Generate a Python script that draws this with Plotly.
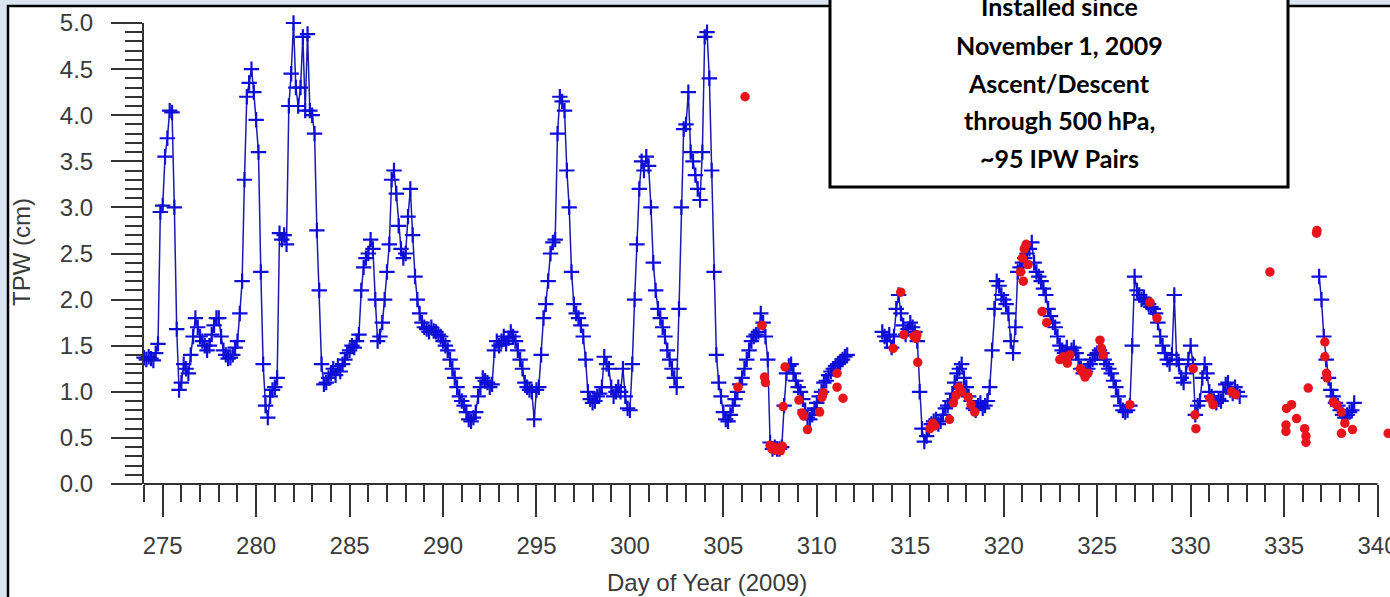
import plotly.graph_objects as go

# ---------------- data ----------------
STEP = 0.125  # sampling step of the blue series (days)

seg1_start = 274.0
seg1_vals = [
    1.37, 1.35, 1.38, 1.36, 1.34, 1.42, 1.52, 2.95,   # 274
    3.02, 3.55, 3.75, 4.05, 4.03, 3.0, 1.68, 1.02,    # 275
    1.1, 1.3, 1.25, 1.2, 1.4, 1.6, 1.8, 1.7,          # 276
    1.6, 1.55, 1.5, 1.45, 1.5, 1.62, 1.72, 1.8,       # 277
    1.8, 1.6, 1.45, 1.4, 1.36, 1.37, 1.4, 1.48,       # 278
    1.55, 1.85, 2.2, 3.3, 4.2, 4.35, 4.5, 4.25,       # 279
    3.95, 3.6, 2.3, 1.3, 0.85, 0.72, 0.95, 1.02,      # 280
    1.05, 1.15, 2.72, 2.65, 2.7, 2.6, 4.1, 4.45,      # 281
    5.0, 4.3, 4.1, 4.3, 4.85, 4.05, 4.88, 4.05,       # 282
    4.0, 3.8, 2.75, 2.1, 1.3, 1.08, 1.1, 1.15,        # 283
    1.2, 1.25, 1.18, 1.28, 1.22, 1.3, 1.35, 1.42,     # 284
    1.45, 1.5, 1.48, 1.55, 1.62, 2.1, 2.35, 2.45,     # 285
    2.5, 2.65, 2.55, 2.0, 1.55, 1.6, 1.75, 2.0,       # 286
    2.3, 2.6, 3.3, 3.4, 3.15, 2.8, 2.55, 2.45,        # 287
    2.5, 2.9, 3.2, 2.7, 2.25, 2.0, 1.85, 1.75,        # 288
    1.7, 1.68, 1.65, 1.7, 1.66, 1.65, 1.62, 1.6,      # 289
    1.55, 1.5, 1.45, 1.35, 1.25, 1.15, 1.05, 0.95,    # 290
    0.9, 0.85, 0.78, 0.7, 0.68, 0.72, 0.78, 0.95,     # 291
    1.05, 1.15, 1.12, 1.1, 1.05, 1.08, 1.45, 1.55,    # 292
    1.5, 1.55, 1.6, 1.52, 1.58, 1.65, 1.6, 1.55,      # 293
    1.45, 1.35, 1.25, 1.1, 1.05, 1.02, 1.0, 0.7,      # 294
    1.02, 1.05, 1.4, 1.8, 1.95, 2.2, 2.5, 2.62,       # 295
    2.65, 3.8, 4.2, 4.15, 4.05, 3.4, 3.0, 2.3,        # 296
    1.95, 1.85, 1.8, 1.72, 1.6, 1.35, 1.0, 0.92,      # 297
    0.88, 0.9, 0.95, 0.98, 1.05, 1.38, 1.3, 1.25,     # 298
    1.05, 0.95, 1.0, 1.05, 1.0, 1.25, 0.95, 0.82,     # 299
    0.8, 1.3, 2.0, 2.6, 3.2, 3.5, 3.4, 3.55,          # 300
    3.45, 3.0, 2.4, 2.1, 1.9, 1.8, 1.7, 1.6,          # 301
    1.45, 1.35, 1.25, 1.15, 1.05, 1.9, 3.0, 3.85,     # 302
    3.9, 4.25, 3.6, 3.5, 3.35, 3.2, 3.08, 3.6,        # 303
    4.85, 4.9, 4.4, 3.4, 2.3, 1.4, 1.1, 0.95,         # 304
    0.78, 0.7, 0.68, 0.75, 0.85, 0.92, 1.0, 1.08,     # 305
    1.15, 1.25, 1.35, 1.45, 1.55, 1.6, 1.62, 1.65,    # 306
    1.85, 1.75, 1.6, 1.35, 0.45, 0.38, 0.4, 0.38,     # 307
    0.38, 0.4, 0.85, 1.2, 1.28, 1.3, 1.2, 1.12,       # 308
    1.05, 1.0, 0.92, 0.8, 0.72, 0.7, 0.75, 0.82,      # 309
    0.88, 0.95, 1.0, 1.1, 1.12, 1.18, 1.22, 1.25,     # 310
    1.28, 1.3, 1.32, 1.35, 1.38, 1.4,                 # 311
]

seg2_start = 313.5
seg2_vals = [
    1.65, 1.6, 1.55, 1.62,                            # 313.5
    1.48, 1.6, 1.9, 2.05, 1.85, 1.72, 1.62, 1.68,     # 314
    1.75, 1.7, 1.65, 1.55, 1.0, 0.6, 0.46, 0.52,      # 315
    0.6, 0.65, 0.68, 0.7, 0.65, 0.68, 0.75, 0.82,     # 316
    0.85, 0.9, 0.98, 1.1, 1.2, 1.25, 1.3, 1.15,       # 317
    1.05, 0.95, 0.9, 0.82, 0.8, 0.85, 0.88, 0.82,     # 318
    0.85, 0.9, 1.05, 1.45, 1.9, 2.2, 2.15, 2.05,      # 319
    2.0, 1.95, 1.85, 1.55, 1.42, 1.7, 2.3, 2.35,      # 320
    2.4, 2.45, 2.5, 2.55, 2.62, 2.4, 2.3, 2.25,       # 321
    2.2, 2.12, 2.05, 1.9, 1.82, 1.75, 1.7, 1.6,       # 322
    1.5, 1.45, 1.42, 1.48, 1.4, 1.45, 1.48, 1.42,     # 323
    1.35, 1.25, 1.2, 1.22, 1.25, 1.3, 1.35, 1.4,      # 324
    1.42, 1.45, 1.42, 1.35, 1.3, 1.25, 1.2, 1.12,     # 325
    1.05, 0.95, 0.85, 0.8, 0.78, 0.8, 0.85, 1.5,      # 326
    2.25, 2.1, 2.05, 2.0, 2.02, 1.98, 1.95, 1.92,     # 327
    1.9, 1.85, 1.75, 1.6, 1.5, 1.42, 1.35, 1.3,       # 328
    1.4, 2.05, 1.35, 1.3, 1.15, 1.1, 1.2, 1.35,       # 329
    1.5, 1.3, 0.75, 0.85, 0.9, 1.15, 1.3, 1.2,        # 330
    1.0, 0.95, 0.9, 0.88, 0.92, 0.9, 1.0, 1.08,       # 331
    1.1, 1.02, 0.98, 1.05, 1.0, 0.95,                 # 332
]

seg3_start = 336.875
seg3_vals = [2.25, 2.0, 1.6, 1.35, 1.15, 1.02, 0.95, 0.88,
             0.85, 0.8, 0.75, 0.72, 0.75, 0.78, 0.8, 0.88]

red_day = [305.78, 306.16, 307.07, 307.2, 307.25, 307.5, 307.6, 307.7, 307.8,
           307.95, 308.05, 308.15, 308.2, 308.3, 309.04, 309.2, 309.3, 309.5,
           310.15, 310.27, 310.35, 311.08, 311.08, 311.4, 314.08, 314.49, 314.66,
           315.2, 315.3, 315.35, 315.4, 316.05, 316.2, 316.3, 317.1, 317.3,
           317.45, 317.6, 317.75, 318.1, 318.25, 318.45, 320.9, 321.0, 321.05,
           321.1, 321.2, 321.3, 322.05, 322.3, 323.0, 323.2, 323.4, 323.54,
           324.1, 324.2, 324.35, 324.5, 325.15, 325.23, 325.32, 326.75, 327.82,
           328.2, 330.14, 330.23, 330.28, 331.03, 331.2, 332.2, 332.4, 334.24,
           335.1, 335.1, 335.13, 335.4, 335.67, 336.1, 336.17, 336.17, 336.29,
           336.74, 336.76, 337.18, 337.18, 337.27, 337.3, 337.63, 337.8, 338.07,
           338.07, 338.25, 338.66, 340.57]
red_val = [1.05, 4.20, 1.72, 1.16, 1.10, 0.42, 0.38, 0.40, 0.37,
           0.39, 0.36, 0.41, 0.84, 1.27, 0.91, 0.77, 0.74, 0.59,
           0.78, 0.94, 0.99, 1.20, 1.05, 0.93, 1.47, 2.08, 1.62,
           1.60, 1.58, 1.62, 1.32, 0.60, 0.66, 0.63, 0.70, 0.88,
           0.96, 1.05, 1.00, 0.94, 0.86, 0.78, 2.30, 2.45, 2.20,
           2.55, 2.60, 2.38, 1.87, 1.75, 1.35, 1.38, 1.31, 1.40,
           1.25, 1.22, 1.16, 1.20, 1.56, 1.47, 1.40, 0.86, 1.97,
           1.80, 1.25, 0.75, 0.60, 0.93, 0.86, 1.00, 0.97, 2.30,
           0.64, 0.57, 0.82, 0.86, 0.71, 0.60, 0.52, 0.45, 1.04,
           2.72, 2.75, 1.54, 1.38, 1.20, 1.15, 0.89, 0.86, 0.78,
           0.55, 0.66, 0.59, 0.55]

x_tick_vals = [275, 280, 285, 290, 295, 300, 305, 310, 315, 320, 325, 330, 335, 340]
y_tick_vals = [0.0, 0.5, 1.0, 1.5, 2.0, 2.5, 3.0, 3.5, 4.0, 4.5, 5.0]

box_lines = ["Installed since", "November 1, 2009", "Ascent/Descent",
             "through 500 hPa,", "~95 IPW Pairs"]

# ---------------- build blue series (gaps between segments) ----------------
blue_x, blue_y = [], []
for start, vals in [(seg1_start, seg1_vals), (seg2_start, seg2_vals), (seg3_start, seg3_vals)]:
    if blue_x:
        blue_x.append(None)
        blue_y.append(None)
    for i, v in enumerate(vals):
        blue_x.append(start + i * STEP)
        blue_y.append(v)

# ---------------- geometry helpers (page pixels -> paper) ----------------
W, H = 1390, 597
L, R, T, B = 144, 0, 23, 113
PW, PH = W - L - R, H - T - B


def px(x):
    return (x - L) / PW


def py(y):
    return (H - B - y) / PH


fig = go.Figure()

fig.add_trace(go.Scatter(
    x=blue_x, y=blue_y, mode="lines+markers", connectgaps=False,
    line=dict(color="#1a1ab0", width=1.5),
    marker=dict(symbol="cross-thin", size=11, line=dict(color="#0e0ed8", width=2.2)),
    cliponaxis=False, showlegend=False, hoverinfo="skip"))

fig.add_trace(go.Scatter(
    x=red_day, y=red_val, mode="markers",
    marker=dict(symbol="circle", size=9.5, color="#e8141c", line=dict(width=0)),
    cliponaxis=False, showlegend=False, hoverinfo="skip"))

tickfont = dict(family="Liberation Sans, Arial, sans-serif", size=24, color="#3a3a3a")

fig.update_layout(
    width=W, height=H, autosize=False,
    margin=dict(l=L, r=R, t=T, b=B, pad=0, autoexpand=False),
    paper_bgcolor="#dbe4f1", plot_bgcolor="white",
    xaxis=dict(
        range=[274, 274 + PW / 18.69], showgrid=False, zeroline=False, showline=False,
        automargin=False,
        tickmode="array", tickvals=x_tick_vals, ticktext=[str(v) for v in x_tick_vals],
        ticks="outside", ticklen=32, tickwidth=2, tickcolor="#333333",
        ticklabelstandoff=8, ticklabeloverflow="allow", tickfont=tickfont,
        minor=dict(tickmode="linear", tick0=274, dtick=1, ticks="outside", ticklen=17,
                   tickwidth=2, tickcolor="#333333", showgrid=False),
    ),
    yaxis=dict(
        range=[0, 5], showgrid=False, zeroline=False, automargin=False,
        showline=True, linewidth=2, linecolor="#333333",
        tickmode="array", tickvals=y_tick_vals, ticktext=[f"{v:.1f}" for v in y_tick_vals],
        ticks="outside", ticklen=31, tickwidth=2, tickcolor="#333333",
        ticklabelstandoff=13, tickfont=tickfont,
        minor=dict(tickmode="linear", tick0=0, dtick=0.1, ticks="outside", ticklen=17,
                   tickwidth=2, tickcolor="#333333", showgrid=False),
    ),
)

shapes = [
    # white page frame with black top/left border
    dict(type="rect", xref="paper", yref="paper", layer="below",
         x0=px(8), x1=px(1420), y0=py(630), y1=py(6),
         fillcolor="white", line=dict(color="black", width=2.5)),
    # x axis line (ends at 340)
    dict(type="line", xref="x", yref="paper", x0=274, x1=340, y0=0, y1=0,
         line=dict(color="#333333", width=2), layer="above"),
    # annotation box
    dict(type="rect", xref="paper", yref="paper", layer="above",
         x0=px(830), x1=px(1288), y0=py(187), y1=py(-20),
         fillcolor="white", line=dict(color="black", width=3)),
]
fig.update_layout(shapes=shapes)

annotations = [
    dict(text="Day of Year (2009)", xref="paper", yref="paper", x=px(707), y=py(582),
         xanchor="center", yanchor="middle", showarrow=False, font=tickfont),
    dict(text="TPW (cm)", xref="paper", yref="paper", x=px(22), y=py(252),
         xanchor="center", yanchor="middle", showarrow=False, textangle=-90, font=tickfont),
]
line_y = [6, 45, 83, 120, 158]
for txt, yy in zip(box_lines, line_y):
    annotations.append(dict(
        text="<b>" + txt + "</b>", xref="paper", yref="paper", x=px(1059), y=py(yy),
        xanchor="center", yanchor="middle", showarrow=False,
        font=dict(family="Lato, Open Sans, sans-serif", size=25, color="black")))
fig.update_layout(annotations=annotations)

fig.write_html("out.html")
